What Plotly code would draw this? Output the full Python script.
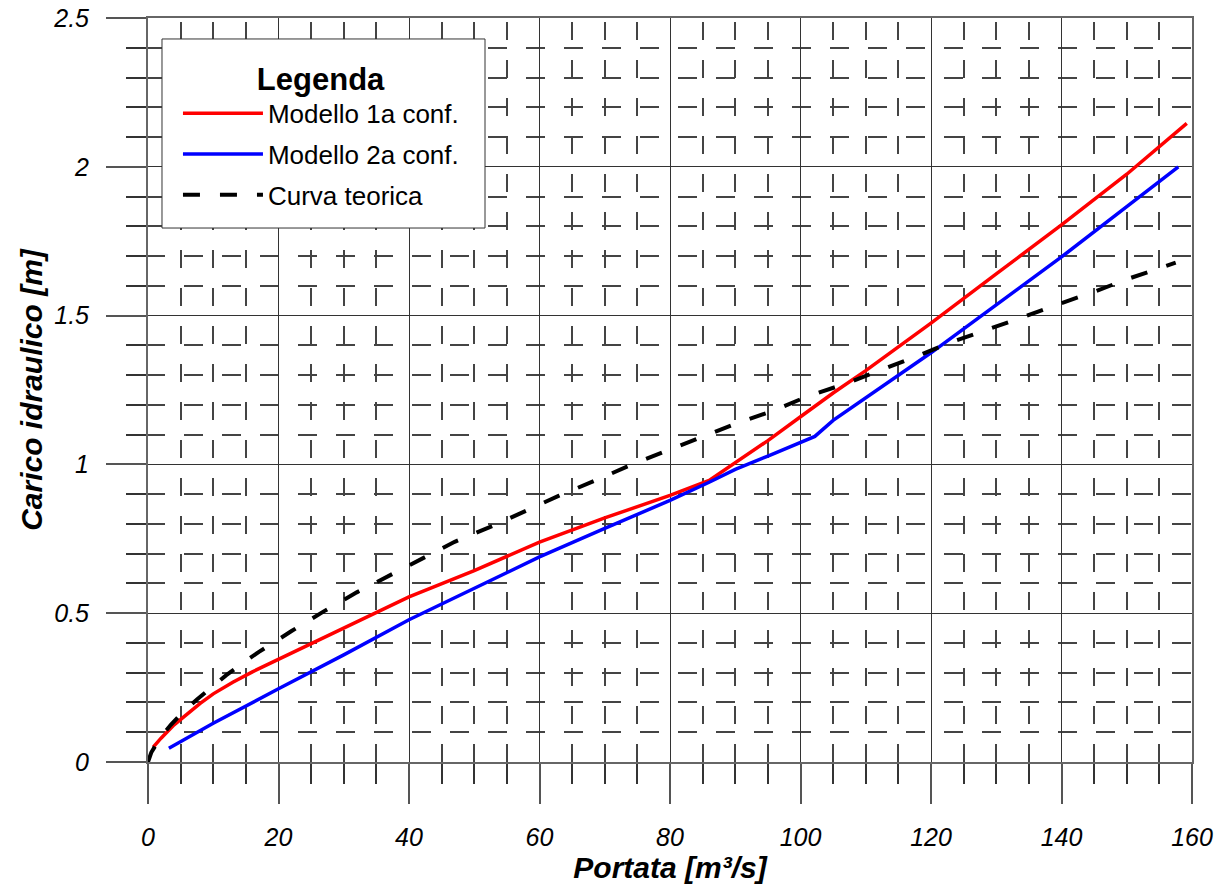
import plotly.graph_objects as go

# Modello 1a conf. (red)
red_x = [0.8, 2, 4, 6, 8, 10, 13, 16, 20, 25, 30, 40, 50, 60, 70, 80, 86, 90, 95, 100, 105, 110, 120, 130, 140, 150, 159.2]
red_y = [0.05, 0.08, 0.125, 0.162, 0.197, 0.229, 0.268, 0.303, 0.345, 0.396, 0.447, 0.555, 0.643, 0.739, 0.82, 0.896, 0.946, 1.005, 1.08, 1.16, 1.24, 1.315, 1.475, 1.64, 1.805, 1.975, 2.146]

# Modello 2a conf. (blue)
blue_x = [3.2, 10, 20, 30, 40, 50, 60, 70, 80, 86, 90, 95, 102.2, 105, 110, 120, 130, 140, 150, 157.9]
blue_y = [0.046, 0.13, 0.246, 0.36, 0.478, 0.585, 0.689, 0.785, 0.879, 0.94, 0.983, 1.028, 1.094, 1.148, 1.223, 1.375, 1.536, 1.697, 1.866, 2.0]

# Curva teorica (black dashed)
theo_x = [0, 0.5, 1, 2, 3.5, 5, 7.5, 10, 12, 14.5, 17, 22, 27, 32, 42, 47, 53, 58, 63, 69, 74, 80, 85, 90, 96, 101, 107, 113, 118, 123, 128.5, 134, 139.5, 145, 150, 156, 157.5]
theo_y = [0, 0.032, 0.05, 0.085, 0.125, 0.16, 0.21, 0.255, 0.292, 0.332, 0.37, 0.44, 0.507, 0.57, 0.685, 0.74, 0.795, 0.845, 0.895, 0.95, 0.998, 1.05, 1.092, 1.136, 1.182, 1.228, 1.272, 1.322, 1.365, 1.41, 1.451, 1.494, 1.538, 1.58, 1.622, 1.666, 1.678]

series_names = ["Modello 1a conf.", "Modello 2a conf.", "Curva teorica"]

FONT = "Liberation Sans, Arial, sans-serif"

fig = go.Figure()
fig.add_trace(go.Scatter(x=red_x, y=red_y, mode="lines", name=series_names[0], legendgroup="a",
                         line=dict(color="#ff0000", width=3.5)))
fig.add_trace(go.Scatter(x=blue_x, y=blue_y, mode="lines", name=series_names[1], legendgroup="b",
                         line=dict(color="#0000ff", width=3.5)))
fig.add_trace(go.Scatter(x=theo_x, y=theo_y, mode="lines", name=series_names[2], legendgroup="c",
                         line=dict(color="#000000", width=4, dash="17px,20px")))

axis_common = dict(
    ticks="outside", ticklen=40, tickwidth=1.5, tickcolor="#555",
    showgrid=True, gridcolor="#333", gridwidth=1,
    showline=True, linecolor="#666", linewidth=2, mirror=True,
    zeroline=False, automargin=False,
    tickfont=dict(family=FONT, size=25, style="italic", color="black"),
)

fig.update_xaxes(
    range=[0, 160], dtick=20, tick0=0, ticklabelstandoff=12,
    minor=dict(dtick=5, ticks="outside", ticklen=20, tickwidth=1.5, tickcolor="#333",
               showgrid=True, gridcolor="#444", gridwidth=2, griddash="0px,4px,18px,16px"),
    title=dict(text="Portata [m³/s]", standoff=5,
               font=dict(family=FONT, size=30, weight="bold", style="italic", color="black")),
    **axis_common,
)
fig.update_yaxes(
    range=[0, 2.5], dtick=0.5, tick0=0, ticklabelstandoff=12,
    minor=dict(dtick=0.1, ticks="outside", ticklen=20, tickwidth=1.5, tickcolor="#333",
               showgrid=True, gridcolor="#444", gridwidth=2, griddash="17px,19px,2px,0px"),
    title=dict(text="Carico idraulico [m]", standoff=2,
               font=dict(family=FONT, size=30, weight="bold", style="italic", color="black")),
    **axis_common,
)

# legend frame (white box with border behind the legend entries)
fig.add_shape(type="rect", xref="paper", yref="paper",
              x0=0.0134, x1=0.3228, y0=0.7177, y1=0.9718,
              line=dict(color="#333", width=1), fillcolor="white", layer="above")

fig.update_layout(
    width=1232, height=887,
    margin=dict(l=148, r=40, t=18, b=125, autoexpand=False),
    plot_bgcolor="white", paper_bgcolor="white",
    font=dict(family=FONT, color="black"),
    legend=dict(
        x=0.0287, y=0.9577, xanchor="left", yanchor="top",
        bgcolor="rgba(0,0,0,0)", borderwidth=0,
        font=dict(family=FONT, size=26, color="black"),
        title=dict(text="<b>Legenda</b>", side="top center",
                   font=dict(family=FONT, size=31, color="black")),
        itemwidth=80, tracegroupgap=4,
    ),
)

fig.write_html("out.html", config={"displayModeBar": False},
               post_script="document.body.style.margin='0';")
